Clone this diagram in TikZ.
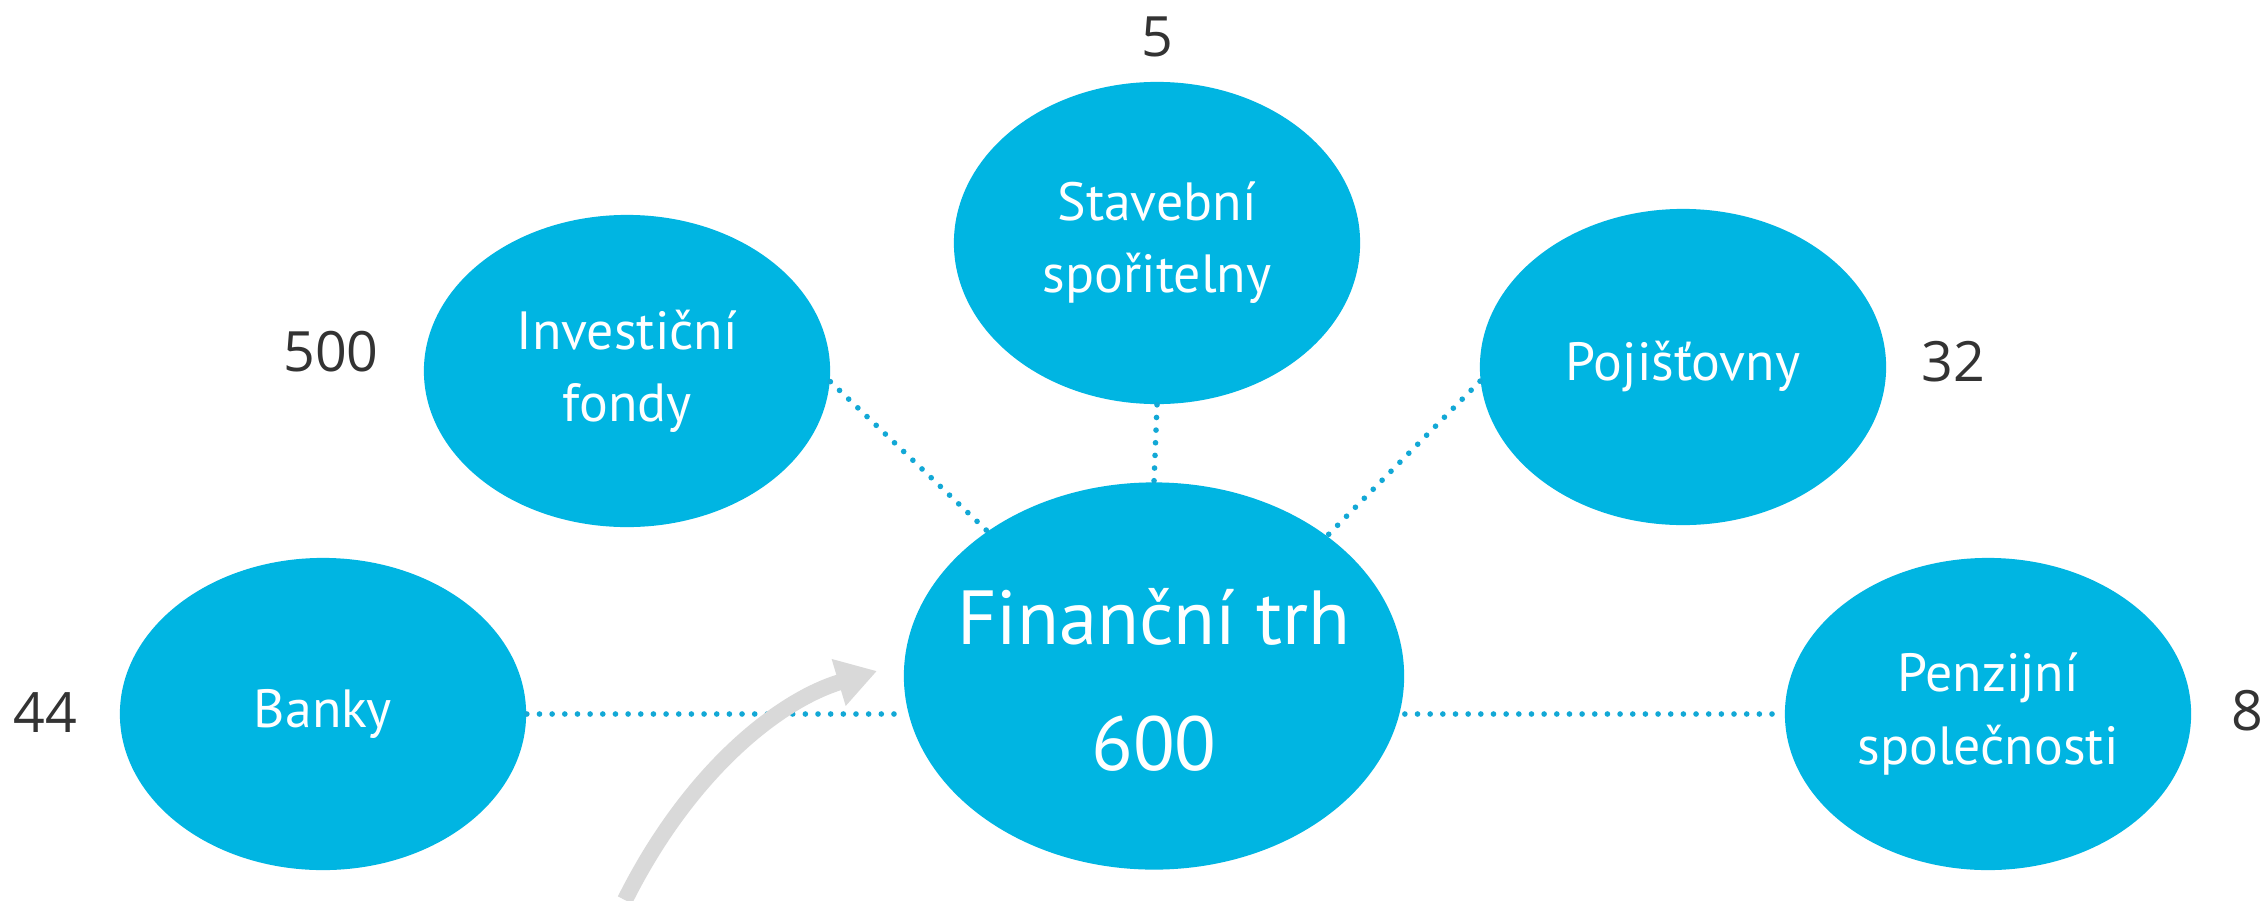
\documentclass[tikz,border=0pt]{standalone}
\usepackage{fontspec}
\setmainfont{PT Sans}
\newfontfamily\numfont{Open Sans}
\usetikzlibrary{arrows.meta,shapes.geometric}
\definecolor{bub}{RGB}{0,181,226}
\definecolor{dotc}{RGB}{18,168,214}
\definecolor{numc}{RGB}{51,51,51}
\definecolor{arrc}{RGB}{217,217,217}
\begin{document}
\begin{tikzpicture}[x=0.01cm,y=-0.01cm,
  bubble/.style={ellipse, fill=bub, draw=none, inner sep=0pt,
    minimum width=4.06cm, minimum height=3.12cm, align=center,
    text=white, font=\fontsize{15.3}{20.5}\selectfont},
  bigbubble/.style={ellipse, fill=bub, draw=none, inner sep=0pt,
    minimum width=5.0cm, minimum height=3.87cm},
  bigtext/.style={align=center, text=white, inner sep=0pt,
    font=\fontsize{21.8}{36}\selectfont},
  num/.style={text=numc, font=\numfont\fontsize{15.8}{18}\selectfont, inner sep=0pt},
  dotline/.style={draw=dotc, line width=1.6pt, line cap=round,
    dash pattern=on 0pt off 3.6pt},
  grayarrow/.style={draw=arrc, line width=0.16cm,
    -{Triangle[length=0.4cm,width=0.46cm]}}]
\useasboundingbox (0,0) rectangle (2264,900);
\fill[white] (0,0) rectangle (2264,900);

\node[bubble, minimum height=3.22cm] (stav) at (1157,243) {Stavební\\spořitelny};
\node[bubble] (inv) at (627,371) {Investiční\\fondy};
\node[bubble, minimum height=3.16cm] (poj) at (1683,367) {Pojišťovny};
\node[bubble] (bank) at (323,714) {Banky};
\node[bubble] (pen) at (1988,714) {Penzijní\\společnosti};
\node[bigbubble] (fin) at (1154,676) {};
\node[bigtext] (fintxt) at (1154,680) {Finanční trh\\600};

\node[num] (n5) at (1157,37) {5};
\node[num] (n500) at (331,352) {500};
\node[num] (n32) at (1953,362) {32};
\node[num] (n44) at (45,713) {44};
\node[num] (n8) at (2247,711) {8};

\draw[dotline] (stav.south) -- (fin.north);
\draw[dotline] (inv.-3) -- (fin.139);
\draw[dotline] (poj.184) -- (fin.39);
\draw[dotline] (bank.east) -- (fin.west |- bank.east);
\draw[dotline] (fin.east |- pen.west) -- (pen.west);

\coordinate (atail) at (625,900);
\coordinate (atip) at (877,671);
\draw[grayarrow] (atail) .. controls (690,770) and (780,700) .. (atip);
\end{tikzpicture}
\end{document}
